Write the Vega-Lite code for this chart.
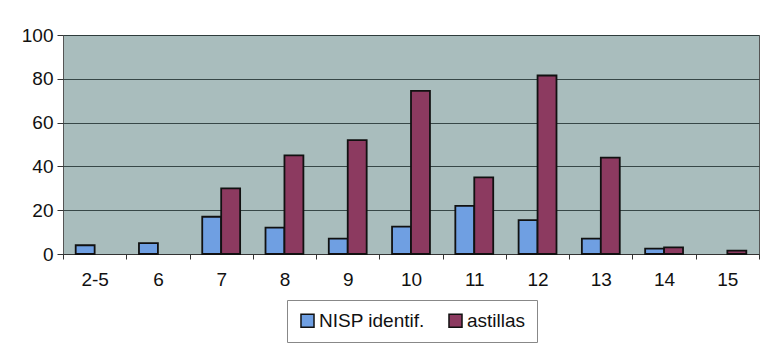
{
  "$schema": "https://vega.github.io/schema/vega-lite/v6.json",
  "width": 696,
  "height": 219,
  "autosize": "none",
  "padding": {"left": 63, "top": 35, "right": 22, "bottom": 91},
  "background": "white",
  "config": {
    "view": {"fill": "#a9bdbd", "stroke": "#555555", "strokeWidth": 1},
    "font": "Liberation Sans"
  },
  "data": {
    "values": [
      {"cat": "2-5", "serie": "NISP identif.", "n": 4},
      {"cat": "6", "serie": "NISP identif.", "n": 5},
      {"cat": "7", "serie": "NISP identif.", "n": 17},
      {"cat": "8", "serie": "NISP identif.", "n": 12},
      {"cat": "9", "serie": "NISP identif.", "n": 7},
      {"cat": "10", "serie": "NISP identif.", "n": 12.5},
      {"cat": "11", "serie": "NISP identif.", "n": 22},
      {"cat": "12", "serie": "NISP identif.", "n": 15.5},
      {"cat": "13", "serie": "NISP identif.", "n": 7},
      {"cat": "14", "serie": "NISP identif.", "n": 2.5},
      {"cat": "7", "serie": "astillas", "n": 30},
      {"cat": "8", "serie": "astillas", "n": 45},
      {"cat": "9", "serie": "astillas", "n": 52},
      {"cat": "10", "serie": "astillas", "n": 74.5},
      {"cat": "11", "serie": "astillas", "n": 35},
      {"cat": "12", "serie": "astillas", "n": 81.5},
      {"cat": "13", "serie": "astillas", "n": 44},
      {"cat": "14", "serie": "astillas", "n": 3},
      {"cat": "15", "serie": "astillas", "n": 1.5}
    ]
  },
  "mark": {"type": "bar", "stroke": "#111111", "strokeWidth": 1.8},
  "encoding": {
    "x": {
      "field": "cat",
      "type": "nominal",
      "sort": ["2-5", "6", "7", "8", "9", "10", "11", "12", "13", "14", "15"],
      "scale": {"domain": ["2-5", "6", "7", "8", "9", "10", "11", "12", "13", "14", "15"], "paddingInner": 0, "paddingOuter": 0},
      "axis": {
        "title": null,
        "labelAngle": 0,
        "labelFontSize": 19,
        "labelColor": "#111111",
        "labelPadding": 11,
        "tickBand": "extent",
        "tickSize": 5,
        "tickColor": "#333333",
        "domainColor": "#333333",
        "grid": false
      }
    },
    "xOffset": {
      "field": "serie",
      "type": "nominal",
      "sort": ["NISP identif.", "astillas"],
      "scale": {"domain": ["NISP identif.", "astillas"], "paddingInner": 0, "paddingOuter": 0.67}
    },
    "y": {
      "field": "n",
      "type": "quantitative",
      "scale": {"domain": [0, 100], "nice": false},
      "axis": {
        "title": null,
        "values": [0, 20, 40, 60, 80, 100],
        "labelFontSize": 19,
        "labelColor": "#111111",
        "labelPadding": 4,
        "tickSize": 6,
        "tickColor": "#333333",
        "domain": false,
        "grid": true,
        "gridColor": "#2a3a3a",
        "gridWidth": 1,
        "gridOpacity": 0.9
      }
    },
    "color": {
      "field": "serie",
      "type": "nominal",
      "sort": ["NISP identif.", "astillas"],
      "scale": {"domain": ["NISP identif.", "astillas"], "range": ["#6f9fe2", "#8c3a60"]},
      "legend": {
        "title": null,
        "orient": "none",
        "legendX": 224,
        "legendY": 265,
        "direction": "horizontal",
        "symbolType": "square",
        "symbolSize": 170,
        "symbolStrokeColor": "#111111",
        "symbolStrokeWidth": 1.5,
        "labelFontSize": 19,
        "labelColor": "#111111",
        "labelOffset": 2,
        "columnPadding": 20,
        "strokeColor": "#888888",
        "fillColor": "white",
        "padding": 11
      }
    }
  }
}
